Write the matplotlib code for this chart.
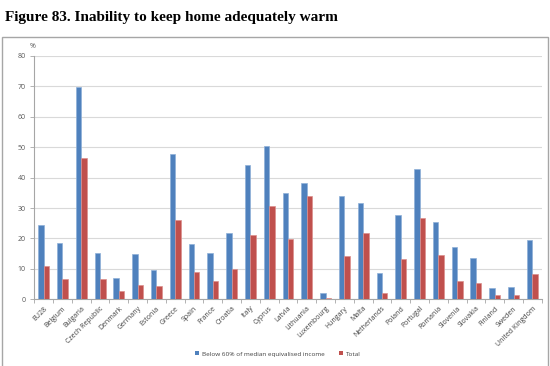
import matplotlib
matplotlib.use("Agg")
import matplotlib.pyplot as plt
from matplotlib.patches import Rectangle, Patch
import numpy as np

countries = ["EU28", "Belgium", "Bulgaria", "Czech Republic", "Denmark", "Germany",
             "Estonia", "Greece", "Spain", "France", "Croatia", "Italy", "Cyprus",
             "Latvia", "Lithuania", "Luxembourg", "Hungary", "Malta", "Netherlands",
             "Poland", "Portugal", "Romania", "Slovenia", "Slovakia", "Finland",
             "Sweden", "United Kingdom"]
below60 = [24.4, 18.4, 69.9, 15.2, 7.1, 14.8, 9.6, 47.7, 18.2, 15.3, 21.8, 44.1, 50.5,
           35.0, 38.1, 2.1, 34.0, 31.7, 8.7, 27.6, 43.0, 25.3, 17.2, 13.6, 3.7, 3.9, 19.4]
total = [10.8, 6.7, 46.6, 6.7, 2.6, 4.7, 4.3, 26.1, 9.0, 6.0, 9.8, 21.2, 30.7,
         19.8, 34.1, 0.5, 14.4, 21.7, 2.1, 13.2, 26.8, 14.5, 6.0, 5.5, 1.4, 1.4, 8.2]
series_names = ["Below 60% of median equivalised income", "Total"]
yticks = [0, 10, 20, 30, 40, 50, 60, 70, 80]

blue = "#4F81BD"
red = "#C0504D"
txt = "#595959"

plt.rcParams['font.family'] = ['Open Sans', 'DejaVu Sans']

fig = plt.figure(figsize=(5.5, 3.66), dpi=100)

# rahmen um das diagramm (unten abgeschnitten wie im original)
fig.patches.append(Rectangle((2 / 550, -0.05), 546 / 550, 0.05 + 1 - 37 / 366,
                             transform=fig.transFigure, fill=False,
                             edgecolor="#A6A6A6", linewidth=1.0))

fig.text(5 / 550, 1 - 18 / 366, "Figure 83. Inability to keep home adequately warm",
         family="Liberation Serif", fontweight="bold", fontsize=11, va="center", ha="left")

ax = fig.add_axes([34.3 / 550, 1 - 299.3 / 366, (541.7 - 34.3) / 550, (299.3 - 56) / 366])

x = np.arange(len(countries))
w = 0.29
ax.bar(x - w / 2, below60, width=w, color=blue, edgecolor="#8FB0D8", linewidth=0.5, zorder=3)
ax.bar(x + w / 2, total, width=w, color=red, edgecolor="#DB908E", linewidth=0.5, zorder=3)

ax.set_xlim(-0.5, len(countries) - 0.5)
ax.set_ylim(0, 80)
ax.set_yticks(yticks)
ax.yaxis.grid(True, color="#D9D9D9", linewidth=0.8, zorder=0)
ax.set_axisbelow(True)

ax.set_xticks(x)
ax.set_xticklabels(countries, rotation=45, ha="right", rotation_mode="anchor",
                   fontsize=5, color="#404040")
ax.set_xticks(np.arange(-0.5, len(countries)), minor=True)
ax.tick_params(axis="x", which="major", length=0, pad=4)
ax.tick_params(axis="x", which="minor", length=3, color="#A6A6A6", width=0.6)
ax.tick_params(axis="y", length=3, color="#A6A6A6", width=0.6, labelsize=5,
               labelcolor=txt, pad=3)

for s in ["top", "right"]:
    ax.spines[s].set_visible(False)
for s in ["left", "bottom"]:
    ax.spines[s].set_color("#A6A6A6")
    ax.spines[s].set_linewidth(0.8)

fig.text(33 / 550, 1 - 47 / 366, "%", fontsize=5, color=txt, ha="center", va="center")

handles = [Patch(facecolor=blue), Patch(facecolor=red)]
fig.legend(handles, series_names, loc="center", bbox_to_anchor=(0.505, 1 - 354 / 366),
           ncol=2, frameon=False, fontsize=4.6, handlelength=0.6, handleheight=0.6,
           handletextpad=0.5, columnspacing=2.2, labelcolor="#404040")

fig.savefig("out.png", dpi=100)
